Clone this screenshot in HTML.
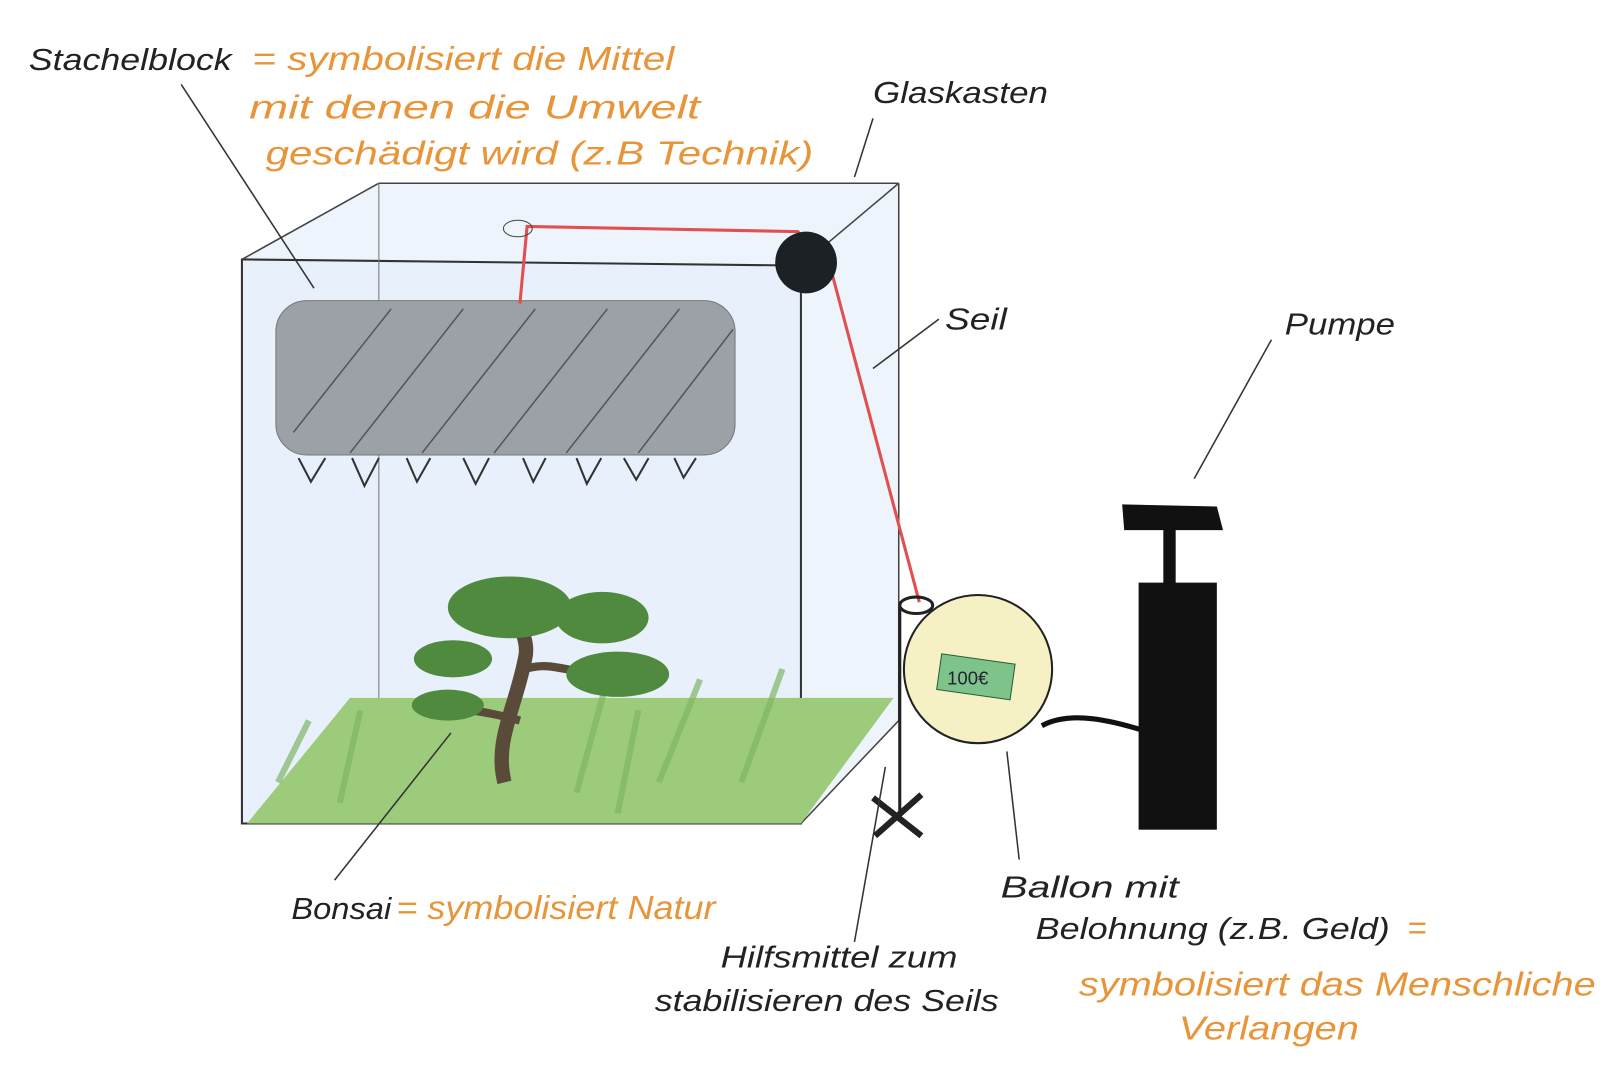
<!DOCTYPE html>
<html><head><meta charset="utf-8"><style>
html,body{margin:0;padding:0;background:#fff;width:1606px;height:1086px;overflow:hidden}
svg{display:block}
text{font-family:"Liberation Sans",sans-serif;font-style:italic}
.b{fill:#222;font-size:30px}
.o{fill:#e8953a;font-size:32px}
</style></head><body>
<svg width="1606" height="1086" viewBox="0 0 1560 1055" preserveAspectRatio="none">
<polygon points="235,252 368,178 873,178 873,700 778,800 235,800" fill="#eef4fc"/>
<polygon points="235,252 778,258 778,800 235,800" fill="#e8f0fb" stroke="#333" stroke-width="2"/>
<g stroke="#444" stroke-width="1.5" fill="none">
<line x1="235" y1="252" x2="368" y2="178"/><line x1="368" y1="178" x2="873" y2="178"/>
<line x1="778" y1="258" x2="873" y2="178"/><line x1="873" y1="178" x2="873" y2="700"/>
<line x1="778" y1="800" x2="873" y2="700"/>
</g>
<line x1="368" y1="178" x2="368" y2="680" stroke="#777" stroke-width="1"/>
<polygon points="340,678 868,678 778,800 240,800" fill="#9dcb7c"/>
<g stroke="#7fb765" stroke-width="6" opacity="0.7">
<line x1="270" y1="760" x2="300" y2="700"/><line x1="330" y1="780" x2="350" y2="690"/><line x1="560" y1="770" x2="590" y2="660"/><line x1="640" y1="760" x2="680" y2="660"/><line x1="720" y1="760" x2="760" y2="650"/><line x1="600" y1="790" x2="620" y2="690"/>
</g>
<path d="M490,760 C480,720 500,690 510,640 C515,620 500,600 495,590" stroke="#5a4a3a" stroke-width="14" fill="none"/>
<path d="M505,700 C470,690 450,690 430,685 M510,650 C540,640 560,660 590,650" stroke="#5a4a3a" stroke-width="8" fill="none"/>
<g fill="#4f8a3e">
<ellipse cx="495" cy="590" rx="60" ry="30"/><ellipse cx="585" cy="600" rx="45" ry="25"/><ellipse cx="440" cy="640" rx="38" ry="18"/><ellipse cx="600" cy="655" rx="50" ry="22"/><ellipse cx="435" cy="685" rx="35" ry="15"/>
</g>
<rect x="268" y="292" width="446" height="150" rx="30" fill="#9ca1a7" stroke="#777"/>
<g stroke="#555" stroke-width="1.5">
<line x1="285" y1="420" x2="380" y2="300"/><line x1="340" y1="440" x2="450" y2="300"/><line x1="410" y1="440" x2="520" y2="300"/><line x1="480" y1="440" x2="590" y2="300"/><line x1="550" y1="440" x2="660" y2="300"/><line x1="620" y1="440" x2="712" y2="320"/>
</g>
<g fill="none" stroke="#333" stroke-width="2">
<path d="M290,445 L302,468 L316,445 M342,445 L354,472 L368,445 M395,445 L405,468 L418,445 M450,445 L462,470 L475,445 M508,445 L518,468 L530,445 M560,445 L570,470 L584,445 M606,445 L618,466 L630,445 M655,445 L664,464 L676,445"/>
</g>
<polyline points="505,295 512,220 775,225 808,265 893,585" fill="none" stroke="#e05050" stroke-width="3"/>
<ellipse cx="503" cy="222" rx="14" ry="8" fill="none" stroke="#444"/>
<circle cx="783" cy="255" r="30" fill="#1c2126"/>
<line x1="874" y1="590" x2="874" y2="790" stroke="#222" stroke-width="3"/>
<ellipse cx="890" cy="588" rx="16" ry="8" fill="none" stroke="#222" stroke-width="3"/>
<path d="M848,775 L895,812 M895,772 L850,812" stroke="#222" stroke-width="6"/>
<circle cx="950" cy="650" r="72" fill="#f5f1c4" stroke="#222" stroke-width="2"/>
<rect x="912" y="640" width="72" height="35" fill="#7ec48a" stroke="#2a5d35" transform="rotate(8 948 657)"/>
<text x="920" y="665" style="font-size:18px;font-style:normal;fill:#223">100€</text>
<path d="M1012,705 C1040,690 1080,700 1112,710" fill="none" stroke="#111" stroke-width="5"/>
<polygon points="1090,490 1182,492 1188,515 1092,515" fill="#111"/>
<rect x="1130" y="510" width="12" height="58" fill="#111"/>
<rect x="1106" y="566" width="76" height="240" fill="#111"/>
<g stroke="#333" stroke-width="1.5" fill="none">
<line x1="176" y1="82" x2="305" y2="280"/><line x1="848" y1="115" x2="830" y2="172"/>
<line x1="912" y1="310" x2="848" y2="358"/><line x1="1235" y1="330" x2="1160" y2="465"/>
<line x1="438" y1="712" x2="325" y2="855"/><line x1="860" y1="745" x2="830" y2="915"/>
<line x1="978" y1="730" x2="990" y2="835"/>
</g>
<text class="b" x="28" y="68" textLength="197" lengthAdjust="spacingAndGlyphs">Stachelblock</text>
<text class="o" x="245" y="68" textLength="410" lengthAdjust="spacingAndGlyphs">= symbolisiert die Mittel</text>
<text class="o" x="242" y="115" textLength="438" lengthAdjust="spacingAndGlyphs">mit denen die Umwelt</text>
<text class="o" x="258" y="160" textLength="532" lengthAdjust="spacingAndGlyphs">geschädigt  wird (z.B Technik)</text>
<text class="b" x="848" y="100" textLength="170" lengthAdjust="spacingAndGlyphs">Glaskasten</text>
<text class="b" x="918" y="320" textLength="60" lengthAdjust="spacingAndGlyphs">Seil</text>
<text class="b" x="1248" y="325" textLength="107" lengthAdjust="spacingAndGlyphs">Pumpe</text>
<text class="b" x="283" y="893" textLength="97" lengthAdjust="spacingAndGlyphs">Bonsai</text>
<text class="o" x="385" y="893" textLength="310" lengthAdjust="spacingAndGlyphs">= symbolisiert Natur</text>
<text class="b" x="700" y="940" textLength="230" lengthAdjust="spacingAndGlyphs">Hilfsmittel zum</text>
<text class="b" x="636" y="982" textLength="334" lengthAdjust="spacingAndGlyphs">stabilisieren des Seils</text>
<text class="b" x="972" y="872" textLength="173" lengthAdjust="spacingAndGlyphs">Ballon mit</text>
<text class="b" x="1006" y="912" textLength="344" lengthAdjust="spacingAndGlyphs">Belohnung (z.B. Geld)</text>
<text class="o" x="1367" y="912">=</text>
<text class="o" x="1048" y="967" textLength="502" lengthAdjust="spacingAndGlyphs">symbolisiert das Menschliche</text>
<text class="o" x="1145" y="1010" textLength="175" lengthAdjust="spacingAndGlyphs">Verlangen</text>
</svg>
</body></html>
